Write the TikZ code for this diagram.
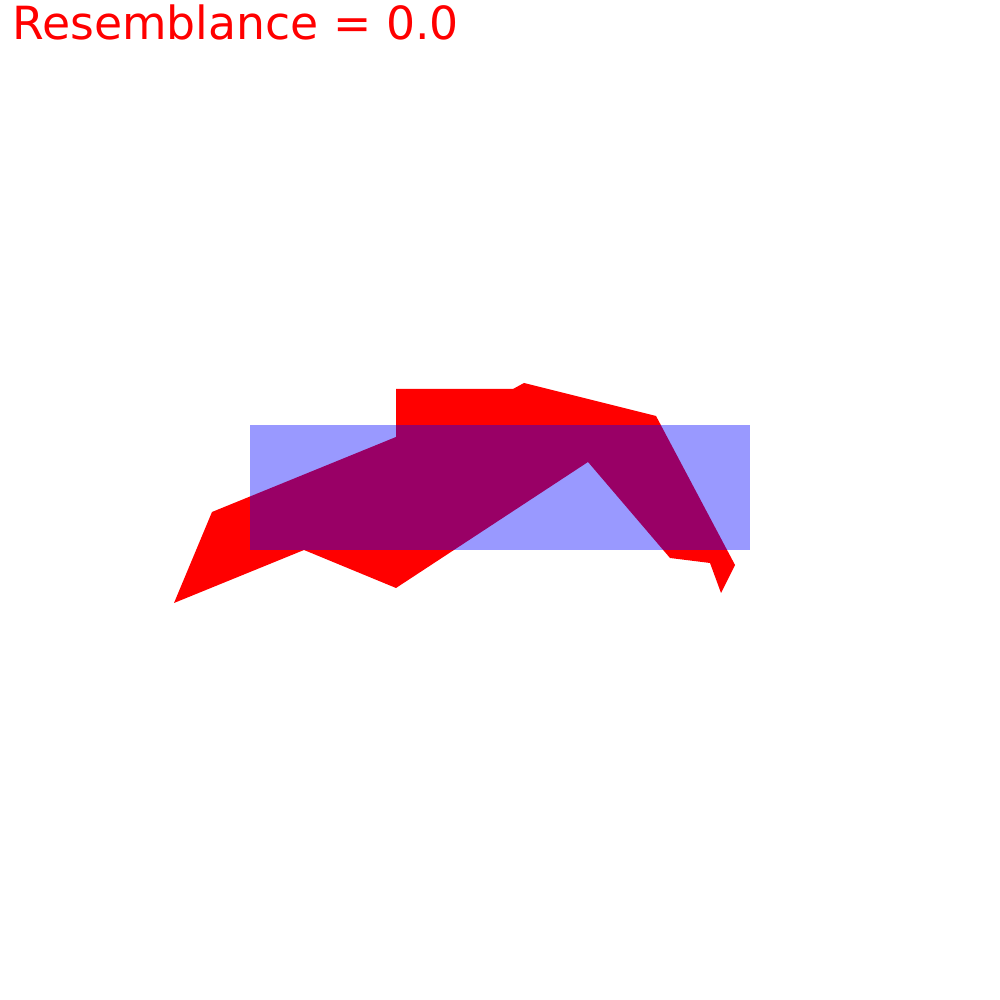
\documentclass[tikz,border=0pt]{standalone}
\usepackage{fontspec}
\setmainfont{DejaVu Sans}
\usetikzlibrary{positioning,calc}
\definecolor{BlobRed}{RGB}{255,0,0}
\definecolor{BoxBlue}{RGB}{0,0,255}
\tikzset{
	blob/.style={fill=BlobRed,draw=none},
	box/.style={fill=BoxBlue,fill opacity=0.4,draw=none},
	score/.style={text=BlobRed,font=\fontsize{13}{15}\selectfont,inner sep=0pt,anchor=base west},
}
\begin{document}
\begin{tikzpicture}
	\useasboundingbox (0,0) rectangle (10,10);
	% red polygon
	\coordinate (p1) at (1.74,3.97);
	\coordinate (p2) at (2.12,4.88);
	\coordinate (p3) at (3.96,5.63);
	\coordinate (p4) at (3.96,6.11);
	\coordinate (p5) at (5.13,6.11);
	\coordinate (p6) at (5.24,6.17);
	\coordinate (p7) at (6.56,5.84);
	\coordinate (p8) at (7.35,4.35);
	\coordinate (p9) at (7.21,4.07);
	\coordinate (p10) at (7.10,4.37);
	\coordinate (p11) at (6.70,4.42);
	\coordinate (p12) at (5.88,5.38);
	\coordinate (p13) at (3.96,4.12);
	\coordinate (p14) at (3.04,4.50);
	\fill[blob] (p1)--(p2)--(p3)--(p4)--(p5)--(p6)--(p7)--(p8)--(p9)--(p10)--(p11)--(p12)--(p13)--(p14)--cycle;
	% blue rectangle
	\fill[box] (2.50,4.50) rectangle (7.50,5.75);
	\node[score] (title) at (0.12,9.60) {Resemblance = 0.0};
\end{tikzpicture}
\end{document}
